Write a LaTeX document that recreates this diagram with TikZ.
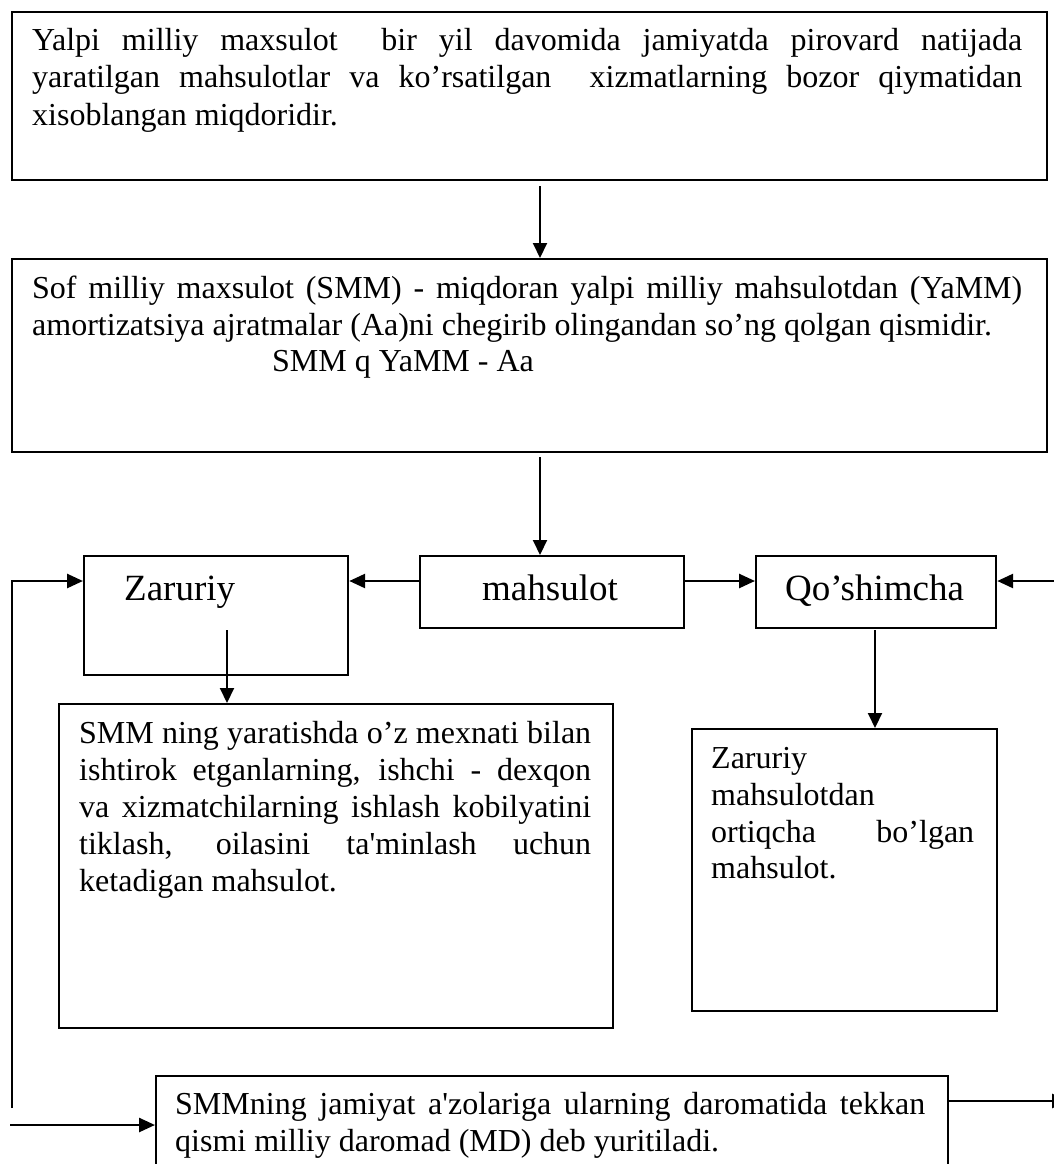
\documentclass[tikz,border=0pt]{standalone}
\usepackage{fontspec}
\setmainfont{Liberation Serif}
\usetikzlibrary{arrows.meta,calc}
\begin{document}
\begin{tikzpicture}[x=1pt,y=-1pt,
  box/.style={draw, line width=2.2pt, inner sep=0pt, anchor=north west},
  varr/.style={-{Triangle[length=15pt,width=14pt]}, line width=2pt},
  harr/.style={-{Triangle[length=16pt,width=14pt]}, line width=2.6pt},
  txt/.style={anchor=base west, inner sep=0pt, font=\fontsize{32}{37}\selectfont},
  big/.style={anchor=base west, inner sep=0pt, font=\fontsize{37}{42}\selectfont}]
\useasboundingbox (0,0) rectangle (1054,1164);
\clip (0,0) rectangle (1054,1164);

% boxes
\node[box, minimum width=1035pt, minimum height=168pt] (gnp) at (11,11) {};
\node[box, minimum width=1035pt, minimum height=193pt] (nnp) at (11,258) {};
\node[box, minimum width=264pt, minimum height=119pt] (zar) at (83,555) {};
\node[box, minimum width=264pt, minimum height=72pt] (mah) at (419,555) {};
\node[box, minimum width=240pt, minimum height=72pt] (qos) at (755,555) {};
\node[box, minimum width=554pt, minimum height=324pt] (zard) at (58,703) {};
\node[box, minimum width=305pt, minimum height=282pt] (qosd) at (691,728) {};
\node[box, minimum width=792pt, minimum height=130pt] (md) at (155,1075) {};

% texts: top box
\node[txt] (g1) at (32,51) {\makebox[990pt][s]{Yalpi milliy maxsulot\ \ bir yil davomida jamiyatda pirovard natijada}};
\node[txt] (g2) at (32,88) {\makebox[990pt][s]{yaratilgan mahsulotlar va ko’rsatilgan\ \ xizmatlarning bozor qiymatidan}};
\node[txt] (g3) at (32,125) {xisoblangan miqdoridir.};

% second box
\node[txt] (n1) at (32,298) {\makebox[990pt][s]{Sof milliy maxsulot (SMM) - miqdoran yalpi milliy mahsulotdan (YaMM)}};
\node[txt] (n2) at (32,335) {amortizatsiya ajratmalar (Aa)ni chegirib olingandan so’ng qolgan qismidir.};
\node[txt] (n3) at (272,371) {SMM q YaMM - Aa};

% row labels
\node[big] (zl) at (124,600) {Zaruriy};
\node[big] (ml) at (482,600) {mahsulot};
\node[big] (ql) at (785,600) {Qo’shimcha};

% lower left box
\node[txt] (z1) at (79,743) {\makebox[512pt][s]{SMM ning yaratishda o’z mexnati bilan}};
\node[txt] (z2) at (79,780) {\makebox[512pt][s]{ishtirok etganlarning, ishchi - dexqon}};
\node[txt] (z3) at (79,817) {\makebox[512pt][s]{va xizmatchilarning ishlash kobilyatini}};
\node[txt] (z4) at (79,854) {\makebox[512pt][s]{tiklash, oilasini ta\textquotesingle minlash uchun}};
\node[txt] (z5) at (79,891) {ketadigan mahsulot.};

% lower right box
\node[txt] (q1) at (711,768) {Zaruriy};
\node[txt] (q2) at (711,805) {mahsulotdan};
\node[txt] (q3) at (711,842) {\makebox[263pt][s]{ortiqcha bo’lgan}};
\node[txt] (q4) at (711,878) {mahsulot.};

% bottom box
\node[txt] (m1) at (175,1114) {\makebox[750pt][s]{SMMning jamiyat a\textquotesingle zolariga ularning daromatida tekkan}};
\node[txt] (m2) at (175,1151) {qismi milliy daromad (MD) deb yuritiladi.};

% connectors
\draw[varr] ($(gnp.south west)+(529,5)$) -- ($(nnp.north west)+(529,0)$);
\draw[varr] ($(nnp.south west)+(529,4)$) -- ($(mah.north west)+(121,0)$);
\draw[harr] ($(mah.north west)+(0,26)$) -- ($(zar.north east)+(0,26)$);
\draw[harr] ($(mah.north east)+(0,26)$) -- ($(qos.north west)+(0,26)$);
\coordinate (re) at (1056,581);
\draw[harr] (re) -- ($(qos.north east)+(0,26)$);
\coordinate (lb) at (12,1108);
\draw[harr] (lb) |- ($(zar.north west)+(0,26)$);
\coordinate (bl) at (10,1125);
\draw[harr] (bl) -- (bl -| md.west);
\coordinate (br) at (1068,1101);
\draw[harr] (br -| md.east) -- (br);
\draw[varr] ($(zar.south west)+(144,-46)$) -- ($(zard.north west)+(169,0)$);
\draw[varr] ($(qos.south west)+(120,1)$) -- ($(qosd.north west)+(184,0)$);
\end{tikzpicture}
\end{document}
